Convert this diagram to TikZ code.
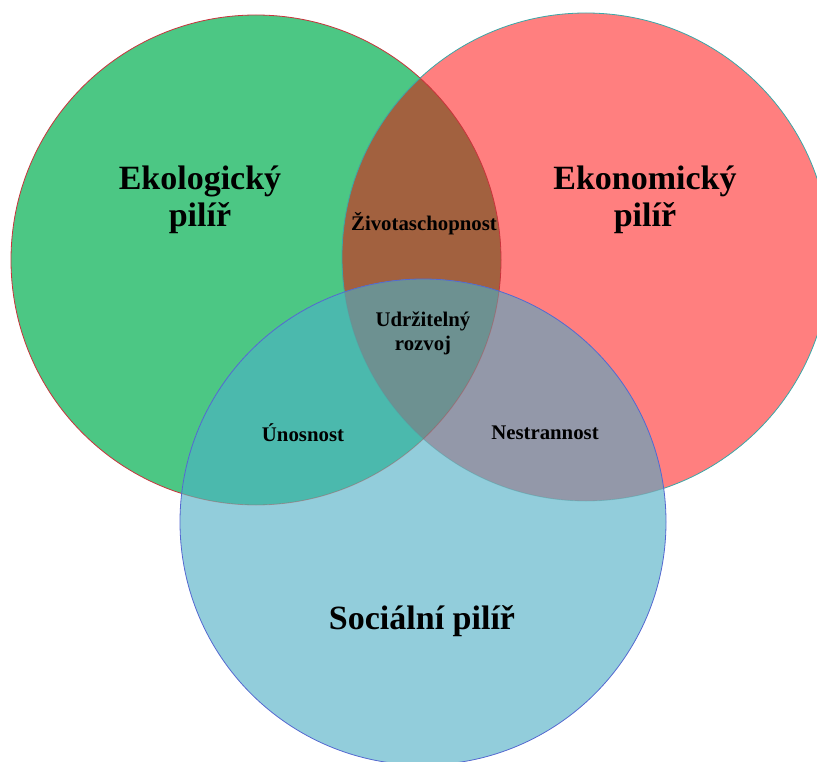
\documentclass[tikz,border=0pt]{standalone}
\usepackage{fontspec}
\setmainfont{Liberation Serif}
\definecolor{cG}{HTML}{4CC784}
\definecolor{cR}{HTML}{FF7F7F}
\definecolor{cB}{HTML}{92CDDB}
\definecolor{cGR}{HTML}{A2613F}
\definecolor{cGB}{HTML}{4BB9AD}
\definecolor{cRB}{HTML}{9398A9}
\definecolor{cGRB}{HTML}{6D9191}
\definecolor{lG}{HTML}{C8343C}
\definecolor{lR}{HTML}{3AA7A7}
\definecolor{lB}{HTML}{5468D0}
\tikzset{
  big/.style={font=\fontsize{34}{37}\selectfont\bfseries, align=center},
  small/.style={font=\fontsize{20.8}{24}\selectfont\bfseries, align=center},
}
\begin{document}
\begin{tikzpicture}[x=1pt,y=-1pt]
\useasboundingbox (0,0) rectangle (817,762);
\clip (0,0) rectangle (817,762);
\coordinate (g) at (256,260);
\coordinate (r) at (586,257);
\coordinate (b) at (423,522);
\def\rg{245}\def\rr{244}\def\rb{243}
\fill[cG] (g) circle (\rg);
\fill[cR] (r) circle (\rr);
\fill[cB] (b) circle (\rb);
\begin{scope}\clip (g) circle (\rg); \fill[cGR] (r) circle (\rr);\end{scope}
\begin{scope}\clip (g) circle (\rg); \fill[cGB] (b) circle (\rb);\end{scope}
\begin{scope}\clip (r) circle (\rr); \fill[cRB] (b) circle (\rb);\end{scope}
\begin{scope}\clip (g) circle (\rg); \clip (r) circle (\rr); \fill[cGRB] (b) circle (\rb);\end{scope}
\begin{scope}\clip (b) circle (\rb);
  \draw[lG, opacity=0.35, line width=0.8] (g) circle (\rg);
  \draw[lR, opacity=0.35, line width=0.8] (r) circle (\rr);
\end{scope}
\begin{scope}[even odd rule]\clip (-10,-10) rectangle (827,800) (b) circle (\rb);
  \draw[lG, line width=0.8] (g) circle (\rg);
  \draw[lR, line width=0.8] (r) circle (\rr);
\end{scope}
\draw[lB, line width=0.8] (b) circle (\rb);
\node[big] (eko) at (200,200) {Ekologický\\pilíř};
\node[big] (ekon) at (645,200) {Ekonomický\\pilíř};
\node[big] (soc) at (422,621) {Sociální pilíř};
\node[small] (ziv) at (424,224) {Životaschopnost};
\node[small] (udr) at (423,333) {Udržitelný\\rozvoj};
\node[small] (uno) at (303,433) {Únosnost};
\node[small] (nes) at (545,433) {Nestrannost};
\end{tikzpicture}
\end{document}
